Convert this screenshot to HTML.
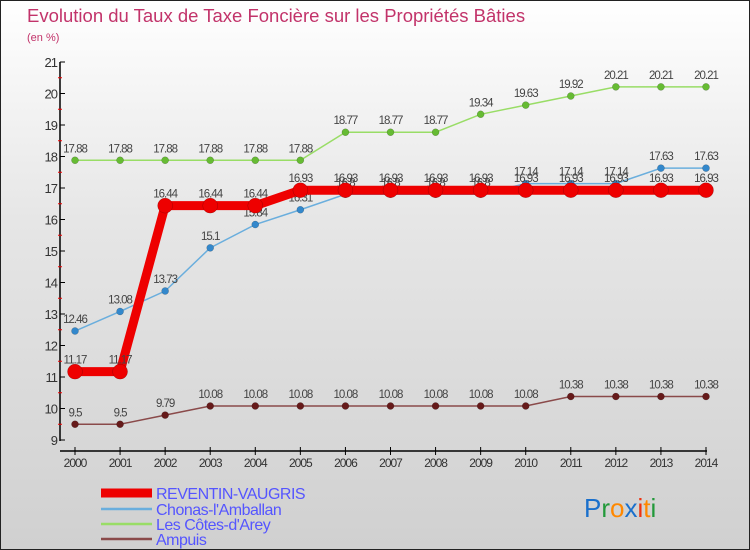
<!DOCTYPE html>
<html><head><meta charset="utf-8"><style>
html,body{margin:0;padding:0}
body{width:750px;height:550px;overflow:hidden;font-family:"Liberation Sans",sans-serif}
#wrap{position:relative;width:748px;height:548px;border:1px solid #222;background:linear-gradient(#ffffff,#e6e6e6 40%,#d0d0d0)}
svg{position:absolute;left:0;top:0}
</style></head><body>
<div id="wrap">
<svg id="chart" width="748" height="548">
<text x="26" y="21" font-size="18.5" fill="#c2336a">Evolution du Taux de Taxe Foncière sur les Propriétés Bâties</text>
<text x="26" y="40" font-size="11" fill="#c2336a">(en %)</text>
</svg>
</div>
<script>
const years=["2000","2001","2002","2003","2004","2005","2006","2007","2008","2009","2010","2011","2012","2013","2014"];
const yTicks=[9,10,11,12,13,14,15,16,17,18,19,20,21];
const reventin=[11.17,11.17,16.44,16.44,16.44,16.93,16.93,16.93,16.93,16.93,16.93,16.93,16.93,16.93,16.93];
const chonas=[12.46,13.08,13.73,15.1,15.84,16.31,16.8,16.8,16.8,16.8,17.14,17.14,17.14,17.63,17.63];
const cotes=[17.88,17.88,17.88,17.88,17.88,17.88,18.77,18.77,18.77,19.34,19.63,19.92,20.21,20.21,20.21];
const ampuis=[9.5,9.5,9.79,10.08,10.08,10.08,10.08,10.08,10.08,10.08,10.08,10.38,10.38,10.38,10.38];
const names=["REVENTIN-VAUGRIS","Chonas-l'Amballan","Les Côtes-d'Arey","Ampuis"];
const svg=document.getElementById('chart');const NS="http://www.w3.org/2000/svg";
function X(i){return 74+i*(705-74)/(years.length-1);}
function Y(v){return 439-(v-9)*(439-61)/12;}
function mk(t,a,p){const e=document.createElementNS(NS,t);for(const k in a)e.setAttribute(k,a[k]);(p||svg).appendChild(e);return e;}
let ax=mk('line',{x1:59,y1:61,x2:59,y2:440,stroke:'#000','stroke-width':1.5});


let bx=mk('line',{x1:59,y1:450,x2:706,y2:450,stroke:'#000','stroke-width':1.5});


yTicks.forEach(v=>{mk('line',{x1:59,y1:Y(v),x2:64,y2:Y(v),stroke:'#000'});
 if(v<21)mk('line',{x1:57,y1:Y(v+0.5),x2:61,y2:Y(v+0.5),stroke:'#e00'});
 const t=mk('text',{x:56,y:Y(v)+5,'font-size':13,'text-anchor':'end',fill:'#333','letter-spacing':'-1'});t.textContent=v;
 
 });
years.forEach((y,i)=>{mk('line',{x1:X(i),y1:446,x2:X(i),y2:454,stroke:'#000'});
 const t=mk('text',{x:X(i),y:466,'font-size':12,'text-anchor':'middle',fill:'#333','letter-spacing':'-1'});t.textContent=y;
 
 });
const series=[
 {d:cotes,c:'#99dd66',m:'#66bb33',w:1.5,r:3.5,n:'series-les-cotes-darey'},
 {d:chonas,c:'#6aaedd',m:'#3388cc',w:1.5,r:3.5,n:'series-chonas-lamballan'},
 {d:ampuis,c:'#8a4a4a',m:'#661a1a',w:1.5,r:3.5,n:'series-ampuis'},
 {d:reventin,c:'#ee0000',m:'#ee0000',w:9,r:7.5,n:'series-reventin-vaugris'}];
series.forEach(s=>{
 const g=mk('g',{});
 
 
 mk('polyline',{points:s.d.map((v,i)=>X(i)+','+Y(v)).join(' '),fill:'none',stroke:s.c,'stroke-width':s.w},g);
 s.d.forEach((v,i)=>{const p=mk('circle',{cx:X(i),cy:Y(v),r:s.r,fill:s.m,stroke:'rgba(0,0,0,0.3)','stroke-width':0.5},g);
  
  
  const t=mk('text',{x:X(i),y:Y(v)-8,'font-size':11.5,'text-anchor':'middle',fill:'#444','letter-spacing':'-1'},g);t.textContent=v;
  
  });
});
const lc=['#ee0000','#6aaedd','#99dd66','#8a4a4a'],lw=[9,2.5,2.5,2.5],ly=[492,508,523,538];
names.forEach((n,i)=>{const g=mk('g',{});
 
 
 mk('line',{x1:100,y1:ly[i],x2:151,y2:ly[i],stroke:lc[i],'stroke-width':lw[i]},g);
 const t=mk('text',{x:155,y:ly[i]+6,'font-size':16,fill:'#5555ff','letter-spacing':'-0.5'},g);t.textContent=n;});
const lg=mk('text',{x:583,y:516,'font-size':26});


[['P','#1a70cc'],['r','#22993a'],['o','#ff8800'],['x','#1a70cc'],['i','#ee3311'],['t','#ff8800'],['i','#22993a']].forEach(([c,f])=>{const s=mk('tspan',{fill:f},lg);s.textContent=c;});
</script>
</body></html>
